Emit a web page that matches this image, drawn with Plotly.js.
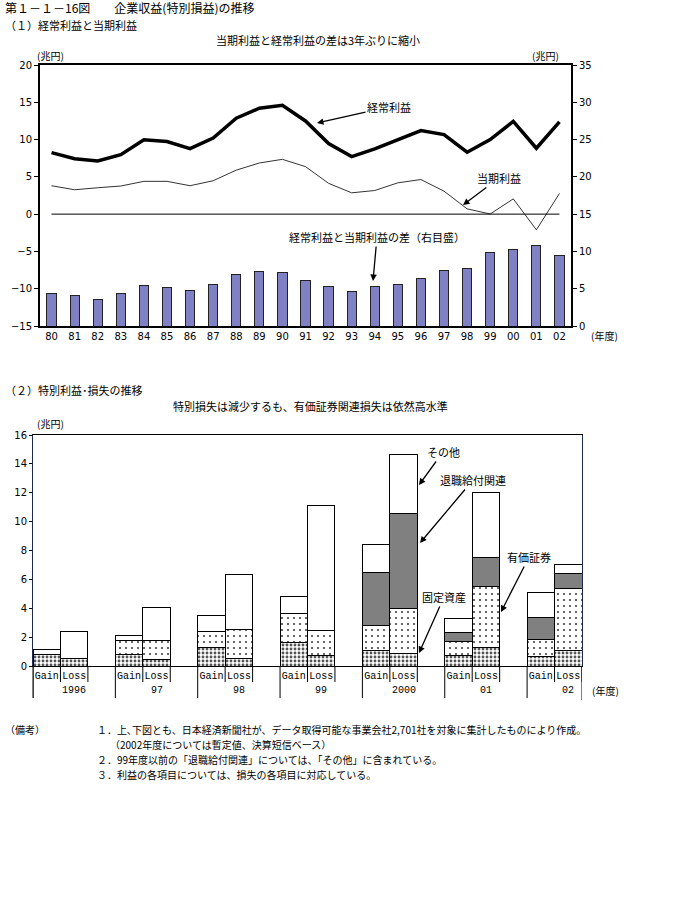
<!DOCTYPE html>
<html><head><meta charset="utf-8">
<script src="https://cdn.plot.ly/plotly-3.0.1.min.js"></script>
<style>body{margin:0;background:#fff}</style>
</head><body><div id="chart" style="width:700px;height:900px"></div>
<script>
// ---- (1) 経常利益と当期利益 ----
const years = ['80','81','82','83','84','85','86','87','88','89','90','91','92','93','94','95','96','97','98','99','00','01','02'];
const ordinaryProfit = [8.25,7.44,7.13,7.98,9.96,9.73,8.79,10.2,12.87,14.2,14.6,12.5,9.46,7.72,8.75,10.0,11.2,10.67,8.3,10.0,12.45,8.84,12.37];
const netProfit = [3.81,3.27,3.54,3.77,4.4,4.4,3.81,4.48,5.9,6.86,7.35,6.37,4.13,2.86,3.17,4.2,4.64,3.08,0.71,0.02,2.05,-2.1,2.77];
const profitGap = [4.33,4.06,3.62,4.33,5.4,5.13,4.78,5.54,6.96,7.32,7.19,6.16,5.27,4.69,5.27,5.54,6.34,7.41,7.68,9.82,10.22,10.76,9.46];

// ---- (2) 特別利益・損失の推移 ----
const groups = ['1996','97','98','99','2000','01','02'];
const sideLabels = ['Gain','Loss'];
const fixedGain = [0.80,0.80,1.30,1.64,1.06,0.76,0.69];
const fixedLoss = [0.50,0.48,0.55,0.74,0.88,1.29,1.06];
const secGain   = [0.00,0.95,1.10,2.00,1.78,0.97,1.16];
const secLoss   = [0.02,1.30,2.00,1.73,3.07,4.20,4.34];
const retGain   = [0,0,0,0,3.67,0.60,1.52];
const retLoss   = [0,0,0,0,6.63,2.03,1.02];
const otherGain = [0.35,0.37,1.10,1.20,1.92,0.97,1.71];
const otherLoss = [1.90,2.28,3.77,8.66,4.04,4.48,0.60];

const PX = x => x/700;
const PY = y => 1 - y/900;
const JP = '"Noto Sans CJK JP", sans-serif';
const NUM = '"DejaVu Sans", sans-serif';
const MONO = '"Liberation Mono", monospace';

const gainX = groups.map((g,i)=>3*i);
const lossX = groups.map((g,i)=>3*i+1);
const bx = gainX.concat(lossX);
const cat = (g,l) => g.concat(l);

const traces = [
  {type:'bar', x:years, y:profitGap, xaxis:'x', yaxis:'y2', width:0.4,
   marker:{color:'#8080c4', line:{color:'#222', width:1}}, hoverinfo:'y'},
  {type:'scatter', mode:'lines', x:years, y:ordinaryProfit, xaxis:'x', yaxis:'y',
   line:{color:'#000', width:3.5}},
  {type:'scatter', mode:'lines', x:years, y:netProfit, xaxis:'x', yaxis:'y',
   line:{color:'#333', width:1}},
  {type:'bar', name:'固定資産', x:bx, y:cat(fixedGain,fixedLoss), xaxis:'x2', yaxis:'y3', width:1,
   marker:{color:'#fff', pattern:{shape:'.', fgcolor:'#555', bgcolor:'#fff', size:4, solidity:0.4}, line:{color:'#000', width:1}}},
  {type:'bar', name:'有価証券', x:bx, y:cat(secGain,secLoss), xaxis:'x2', yaxis:'y3', width:1,
   marker:{color:'#fff', pattern:{shape:'.', fgcolor:'#444', bgcolor:'#fff', size:6, solidity:0.1}, line:{color:'#000', width:1}}},
  {type:'bar', name:'退職給付関連', x:bx, y:cat(retGain,retLoss), xaxis:'x2', yaxis:'y3', width:1,
   marker:{color:'#808080', line:{color:'#000', width:1}}},
  {type:'bar', name:'その他', x:bx, y:cat(otherGain,otherLoss), xaxis:'x2', yaxis:'y3', width:1,
   marker:{color:'#fff', line:{color:'#000', width:1}}}
];

const shapes = [
  {type:'line', xref:'x', yref:'y', x0:0, x1:years.length-1, y0:0, y1:0, line:{color:'#000', width:1}},
  {type:'line', xref:'paper', yref:'paper', x0:PX(33), x1:PX(33), y0:PY(666), y1:PY(698), line:{color:'#000', width:1}},
  {type:'line', xref:'x2', yref:'paper', x0:19.5, x1:19.5, y0:PY(666), y1:PY(700), line:{color:'#000', width:1}}
];
groups.forEach((g,i)=>{
  [3*i-0.5, 3*i+0.5, 3*i+1.5].forEach((xv,k)=>{
    shapes.push({type:'line', xref:'x2', yref:'paper', x0:xv, x1:xv, y0:PY(666), y1:PY(k===0?698:682), line:{color:'#000', width:1}});
  });
});

const ann = [];
const txt = (text,x,y,size,xanchor,extra) => ann.push(Object.assign({text:text, xref:'paper', yref:'paper', x:PX(x), y:PY(y), showarrow:false, xanchor:xanchor||'left', yanchor:'middle', font:{family:JP, size:size||11, color:'#000'}}, extra||{}));
txt('第１－１－16図　　企業収益(特別損益)の推移', 3, 8, 12);
txt('（１）経常利益と当期利益', 3, 25, 11);
txt('当期利益と経常利益の差は3年ぶりに縮小', 318, 40, 11, 'center');
txt('(兆円)', 50, 55, 10, 'center');
txt('(兆円)', 545, 55, 10, 'center');
txt('(年度)', 604, 336, 10, 'center');
txt('（２）特別利益･損失の推移', 3, 390, 11);
txt('特別損失は減少するも、有価証券関連損失は依然高水準', 310, 406, 11, 'center');
txt('(兆円)', 50, 424, 10, 'center');
txt('(年度)', 605, 690, 10, 'center');
txt('（備考）', 3, 729, 10);
txt('１．上､下図とも、日本経済新聞社が、データ取得可能な事業会社2,701社を対象に集計したものにより作成。', 95, 729, 10);
txt('（2002年度については暫定値、決算短信ベース）', 108, 744, 10);
txt('２．99年度以前の「退職給付関連」については、「その他」に含まれている。', 95, 759, 10);
txt('３．利益の各項目については、損失の各項目に対応している。', 95, 774, 10);

groups.forEach((g,i)=>ann.push({text:g, xref:'x2', yref:'paper', x:3*i+1, y:PY(690), showarrow:false, xanchor:'center', yanchor:'middle', font:{family:MONO, size:10, color:'#000'}}));

const arrow = (text,tipX,tipY,ax,ay) => ann.push({text:text, xref:'paper', yref:'paper', x:PX(tipX), y:PY(tipY), ax:ax, ay:ay, showarrow:true, arrowhead:2, arrowsize:1, arrowwidth:1.3, arrowcolor:'#000', font:{family:JP, size:11, color:'#000'}});
arrow('経常利益', 317, 123, 72, -16);
arrow('当期利益', 463, 205, 36, -27);
arrow('経常利益と当期利益の差（右目盛）', 373, 281, 4, -44);
arrow('その他', 419, 485, 24, -33);
arrow('退職給付関連', 420, 543, 53, -63);
arrow('固定資産', 419, 653, 25, -56);
arrow('有価証券', 501, 612, 28, -55);

const layout = {
  width:700, height:900, margin:{l:0,r:0,t:0,b:0}, paper_bgcolor:'#fff', plot_bgcolor:'#fff',
  showlegend:false, barmode:'stack',
  xaxis:{domain:[PX(40),PX(571)], anchor:'y', type:'category', range:[-0.5, years.length-0.5], showline:true, linewidth:2, linecolor:'#000', mirror:true,
         ticks:'', showgrid:false, tickangle:0, tickfont:{family:NUM, size:10, color:'#000'}},
  yaxis:{domain:[PY(326),PY(65)], anchor:'x', range:[-15,20], dtick:5, showgrid:false, zeroline:false, showline:true, linewidth:2, linecolor:'#000',
         ticks:'outside', ticklen:4, tickcolor:'#000', tickfont:{family:NUM, size:10, color:'#000'}},
  yaxis2:{overlaying:'y', side:'right', anchor:'x', range:[0,35], dtick:5, showgrid:false, zeroline:false, showline:true, linewidth:2, linecolor:'#000',
         ticks:'outside', ticklen:4, tickcolor:'#000', tickfont:{family:NUM, size:10, color:'#000'}},
  xaxis2:{domain:[PX(33),PX(582)], anchor:'y3', range:[-0.5,19.5], tickvals:bx, ticktext:gainX.map(()=>sideLabels[0]).concat(lossX.map(()=>sideLabels[1])),
         showline:true, linewidth:1, linecolor:'#000', mirror:true, ticks:'', showgrid:false, zeroline:false, tickfont:{family:MONO, size:10, color:'#000'}},
  yaxis3:{domain:[PY(666),PY(435)], anchor:'x2', range:[0,16], dtick:2, showgrid:false, zeroline:false, showline:true, linewidth:1, linecolor:'#1a2a50', mirror:true,
         ticks:'outside', ticklen:3, tickcolor:'#000', tickfont:{family:NUM, size:10, color:'#000'}},
  shapes:shapes, annotations:ann
};
Plotly.newPlot('chart', traces, layout, {staticPlot:true});
</script></body></html>
